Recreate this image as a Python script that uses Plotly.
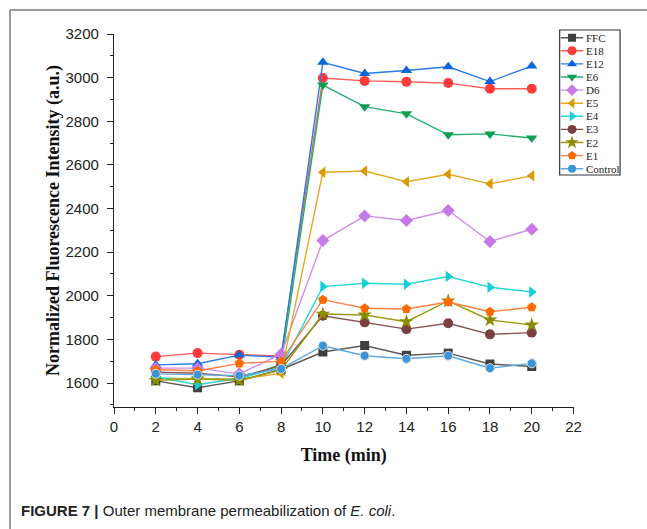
import plotly.graph_objects as go

time_min = [2, 4, 6, 8, 10, 12, 14, 16, 18, 20]

series_names = ["FFC", "E18", "E12", "E6", "D6", "E5", "E4", "E3", "E2", "E1", "Control"]

ffc = [1610, 1578, 1610, 1662, 1742, 1772, 1727, 1737, 1687, 1676]
e18 = [1721, 1737, 1730, 1724, 2998, 2985, 2981, 2975, 2949, 2949]
e12 = [1683, 1688, 1728, 1718, 3070, 3019, 3033, 3050, 2982, 3053]
e6 = [1622, 1620, 1618, 1685, 2966, 2867, 2834, 2738, 2742, 2723]
d6 = [1668, 1668, 1642, 1732, 2253, 2366, 2345, 2391, 2249, 2305]
e5 = [1618, 1620, 1616, 1645, 2566, 2572, 2523, 2557, 2513, 2550]
e4 = [1628, 1592, 1622, 1672, 2042, 2057, 2053, 2088, 2039, 2017]
e3 = [1650, 1645, 1628, 1680, 1908, 1878, 1847, 1874, 1823, 1831]
e2 = [1612, 1618, 1612, 1660, 1916, 1912, 1881, 1976, 1889, 1866]
e1 = [1662, 1655, 1690, 1700, 1982, 1943, 1939, 1971, 1927, 1947]
control = [1642, 1638, 1634, 1665, 1771, 1725, 1711, 1725, 1668, 1690]

values = [ffc, e18, e12, e6, d6, e5, e4, e3, e2, e1, control]

x_ticks = [0, 2, 4, 6, 8, 10, 12, 14, 16, 18, 20, 22]
y_ticks = [1600, 1800, 2000, 2200, 2400, 2600, 2800, 3000, 3200]

marker_colors = ["#3f3f3f", "#ff3b3b", "#0a64dc", "#0f9d50", "#c679e6", "#dc9a00",
                 "#14cfd6", "#7a3f3f", "#8c8c00", "#ff6a00", "#3a94d6"]
line_colors = ["#5a5a5a", "#ff5a5a", "#2a7ae6", "#22b070", "#cf8ce8", "#e6a820",
               "#2ad6dc", "#8a5050", "#9a9a10", "#ff8040", "#5aaae0"]
symbols = ["square", "circle", "triangle-up", "triangle-down", "diamond", "triangle-left",
           "triangle-right", "circle", "star", "pentagon", "circle"]
sizes = [9, 10, 10, 10, 10, 10, 10, 10, 11, 10, 9]

fig = go.Figure()

for name, vals, mc, lc, sym, sz in zip(series_names, values, marker_colors, line_colors, symbols, sizes):
    fig.add_trace(go.Scatter(
        x=time_min, y=vals, mode="lines+markers", name=name,
        line=dict(color=lc, width=1.4),
        marker=dict(symbol=sym, size=sz, color=mc,
                    line=dict(color="#dddddd" if name == "Control" else mc, width=1 if name == "Control" else 0)),
        showlegend=False,
    ))

# Custom compact legend drawn on an auxiliary axis pair
for i, (name, mc, lc, sym, sz) in enumerate(zip(series_names, marker_colors, line_colors, symbols, sizes)):
    row = 7.7 + 13.1 * i
    fig.add_trace(go.Scatter(
        x=[0.02, 0.39], y=[row, row], mode="lines", line=dict(color=lc, width=1.4),
        xaxis="x2", yaxis="y2", showlegend=False, hoverinfo="skip"))
    fig.add_trace(go.Scatter(
        x=[0.205], y=[row], mode="markers",
        marker=dict(symbol=sym, size=sz - 1, color=mc),
        xaxis="x2", yaxis="y2", showlegend=False, hoverinfo="skip"))
    fig.add_annotation(x=0.41, y=row, xref="x2", yref="y2", text=name, showarrow=False,
                       xanchor="left", yanchor="middle",
                       font=dict(family="Liberation Serif, Times New Roman, serif", size=11, color="#222"))

W, H = 647, 529
ml, mr, mt, mb = 114, 15, 28, 122
pw, ph = W - ml - mr, H - mt - mb

def px_x(px):
    return (px - ml) / pw

def px_y(py):
    return (H - mb - py) / ph

serif = "Liberation Serif, Times New Roman, serif"

fig.update_layout(
    width=W, height=H,
    margin=dict(l=ml, r=mr, t=mt, b=mb),
    paper_bgcolor="white", plot_bgcolor="white",
    font=dict(family="Liberation Sans, Arial, sans-serif", color="#222"),
    xaxis=dict(
        domain=[0, px_x(578)], range=[0, 22], tickvals=x_ticks,
        showline=True, linecolor="#222", linewidth=1.2, showgrid=False, zeroline=False,
        ticks="outside", ticklen=6, tickwidth=1.2, tickcolor="#222",
        minor=dict(dtick=1, ticks="outside", ticklen=3, tickwidth=1, tickcolor="#222"),
        tickfont=dict(size=15, color="#222"),
        title=dict(text="<b>Time (min)</b>", standoff=14,
                   font=dict(family=serif, size=18, color="#111")),
    ),
    yaxis=dict(
        domain=[0, px_y(34)], range=[1490, 3200], tickvals=y_ticks,
        showline=True, linecolor="#222", linewidth=1.2, showgrid=False, zeroline=False,
        ticks="outside", ticklen=6, tickwidth=1.2, tickcolor="#222",
        minor=dict(dtick=100, ticks="outside", ticklen=3, tickwidth=1, tickcolor="#222"),
        tickfont=dict(size=15, color="#222"), ticklabelstandoff=5,
        title=dict(text="<b>Normalized Fluorescence Intensity (a.u.)</b>", standoff=1,
                   font=dict(family=serif, size=18, color="#111")),
    ),
    xaxis2=dict(domain=[px_x(564), px_x(625)], range=[0, 1], visible=False, fixedrange=True),
    yaxis2=dict(domain=[px_y(175), px_y(30)], range=[145, 0], visible=False, fixedrange=True),
)

# legend box
fig.add_shape(type="rect", xref="paper", yref="paper",
              x0=px_x(564), x1=px_x(625), y0=px_y(175), y1=px_y(30),
              line=dict(color="#333", width=1.2))

# outer frame lines (top and left)
fig.add_shape(type="line", xref="paper", yref="paper",
              x0=px_x(9), x1=px_x(660), y0=px_y(10), y1=px_y(10),
              line=dict(color="#9a9a9a", width=2))
fig.add_shape(type="line", xref="paper", yref="paper",
              x0=px_x(9), x1=px_x(9), y0=px_y(10), y1=px_y(540),
              line=dict(color="#9a9a9a", width=2))

fig.add_annotation(
    xref="paper", yref="paper", x=px_x(18), y=px_y(510), xanchor="left", yanchor="middle",
    text="<b>FIGURE 7 |</b> Outer membrane permeabilization of <i>E. coli</i>.",
    showarrow=False, font=dict(family="Liberation Sans, Arial, sans-serif", size=15, color="#222"))

fig.write_html("out.html")
